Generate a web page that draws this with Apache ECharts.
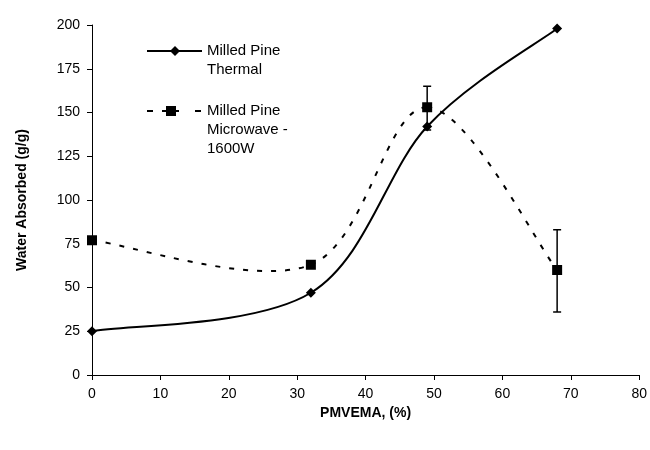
<!DOCTYPE html>
<html><head><meta charset="utf-8">
<script src="https://cdn.jsdelivr.net/npm/echarts@6/dist/echarts.min.js"></script>
<style>html,body{margin:0;padding:0;background:#fff}#c{width:650px;height:450px}</style>
</head><body><div id="c"></div>
<script>
const thermalX = [0, 32, 49, 68];
const thermalY = [25, 47, 142, 198];
const microX = [0, 32, 49, 68];
const microY = [77, 63, 153, 60];
const microErrLow = [null, null, 140, 36];
const microErrHigh = [null, null, 165, 83];
const xTicks = [0, 10, 20, 30, 40, 50, 60, 70, 80];
const yTicks = [0, 25, 50, 75, 100, 125, 150, 175, 200];
const legendNames = ['Milled Pine\nThermal', 'Milled Pine\nMicrowave -\n1600W'];

const thermalData = thermalX.map((x, i) => [x, thermalY[i]]);
const microData = microX.map((x, i) => [x, microY[i]]);
const errData = microX.map((x, i) => [x, microErrLow[i], microErrHigh[i]]).filter(d => d[1] != null);

const font = 'Liberation Sans, Arial, sans-serif';
const lg = { stroke: '#000', lineWidth: 2 };
const txt = (x, y, t) => ({ type: 'text', left: x, top: y,
  style: { text: t, font: '15px ' + font, fill: '#000', lineHeight: 19 } });

// Excel-like smoothed line: Catmull-Rom bezier through the data points, in pixel space
function splineRender(xs, ys, dash) {
  return function (params, api) {
    const i = params.dataIndex, n = xs.length;
    if (i >= n - 1) return null;
    const P = k => { k = Math.max(0, Math.min(n - 1, k)); return api.coord([xs[k], ys[k]]); };
    const p0 = P(i - 1), p1 = P(i), p2 = P(i + 1), p3 = P(i + 2);
    const t = 1 / 6;
    return {
      type: 'bezierCurve',
      shape: {
        x1: p1[0], y1: p1[1], x2: p2[0], y2: p2[1],
        cpx1: p1[0] + (p2[0] - p0[0]) * t, cpy1: p1[1] + (p2[1] - p0[1]) * t,
        cpx2: p2[0] - (p3[0] - p1[0]) * t, cpy2: p2[1] - (p3[1] - p1[1]) * t
      },
      style: { stroke: '#000', fill: null, lineWidth: 2, lineDash: dash }
    };
  };
}

const chart = echarts.init(document.getElementById('c'));
chart.setOption({
  animation: false,
  backgroundColor: '#fff',
  grid: { left: 92, right: 10, top: 25, bottom: 75 },
  graphic: [
    { type: 'line', shape: { x1: 147, y1: 51, x2: 202, y2: 51 }, style: lg },
    { type: 'polygon', shape: { points: [[175, 46], [180, 51], [175, 56], [170, 51]] }, style: { fill: '#000' } },
    txt(207, 41, legendNames[0]),
    { type: 'line', shape: { x1: 147, y1: 111, x2: 153, y2: 111 }, style: lg },
    { type: 'line', shape: { x1: 162, y1: 111, x2: 179, y2: 111 }, style: lg },
    { type: 'line', shape: { x1: 195, y1: 111, x2: 201, y2: 111 }, style: lg },
    { type: 'rect', shape: { x: 166, y: 106, width: 10, height: 10 }, style: { fill: '#000' } },
    txt(207, 101, legendNames[1])
  ],
  xAxis: {
    type: 'value', min: 0, max: 80, interval: 10,
    name: 'PMVEMA, (%)', nameLocation: 'middle', nameGap: 31,
    nameTextStyle: { fontFamily: font, fontSize: 14, fontWeight: 'bold', color: '#000' },
    axisLine: { lineStyle: { color: '#000', width: 1 } },
    axisTick: { show: true, length: 5, lineStyle: { color: '#000' } },
    axisLabel: { fontFamily: font, fontSize: 14, color: '#000', margin: 12 },
    splitLine: { show: false }
  },
  yAxis: {
    type: 'value', min: 0, max: 200, interval: 25,
    name: 'Water Absorbed (g/g)', nameLocation: 'middle', nameGap: 63, nameRotate: 90,
    nameTextStyle: { fontFamily: font, fontSize: 14, fontWeight: 'bold', color: '#000' },
    axisLine: { show: true, lineStyle: { color: '#000', width: 1 } },
    axisTick: { show: true, length: 5, lineStyle: { color: '#000' } },
    axisLabel: { fontFamily: font, fontSize: 14, color: '#000', margin: 12 },
    splitLine: { show: false }
  },
  series: [
    { name: 'thermalLine', type: 'custom', data: thermalData,
      renderItem: splineRender(thermalX, thermalY, null), z: 2 },
    { name: 'microLine', type: 'custom', data: microData,
      renderItem: splineRender(microX, microY, [5, 9]), z: 2 },
    { name: legendNames[0], type: 'scatter', data: thermalData,
      symbol: 'diamond', symbolSize: 10, itemStyle: { color: '#000', opacity: 1 }, z: 4 },
    { name: legendNames[1], type: 'scatter', data: microData,
      symbol: 'rect', symbolSize: 10, itemStyle: { color: '#000', opacity: 1 }, z: 4 },
    {
      name: 'err', type: 'custom', data: errData,
      renderItem: function (params, api) {
        const x = api.value(0);
        const lo = api.coord([x, api.value(1)]);
        const hi = api.coord([x, api.value(2)]);
        const w = 4;
        const st = { stroke: '#000', lineWidth: 1.5 };
        return { type: 'group', children: [
          { type: 'line', shape: { x1: lo[0], y1: lo[1], x2: hi[0], y2: hi[1] }, style: st },
          { type: 'line', shape: { x1: lo[0] - w, y1: lo[1], x2: lo[0] + w, y2: lo[1] }, style: st },
          { type: 'line', shape: { x1: hi[0] - w, y1: hi[1], x2: hi[0] + w, y2: hi[1] }, style: st }
        ]};
      },
      z: 1
    }
  ]
});
</script></body></html>
